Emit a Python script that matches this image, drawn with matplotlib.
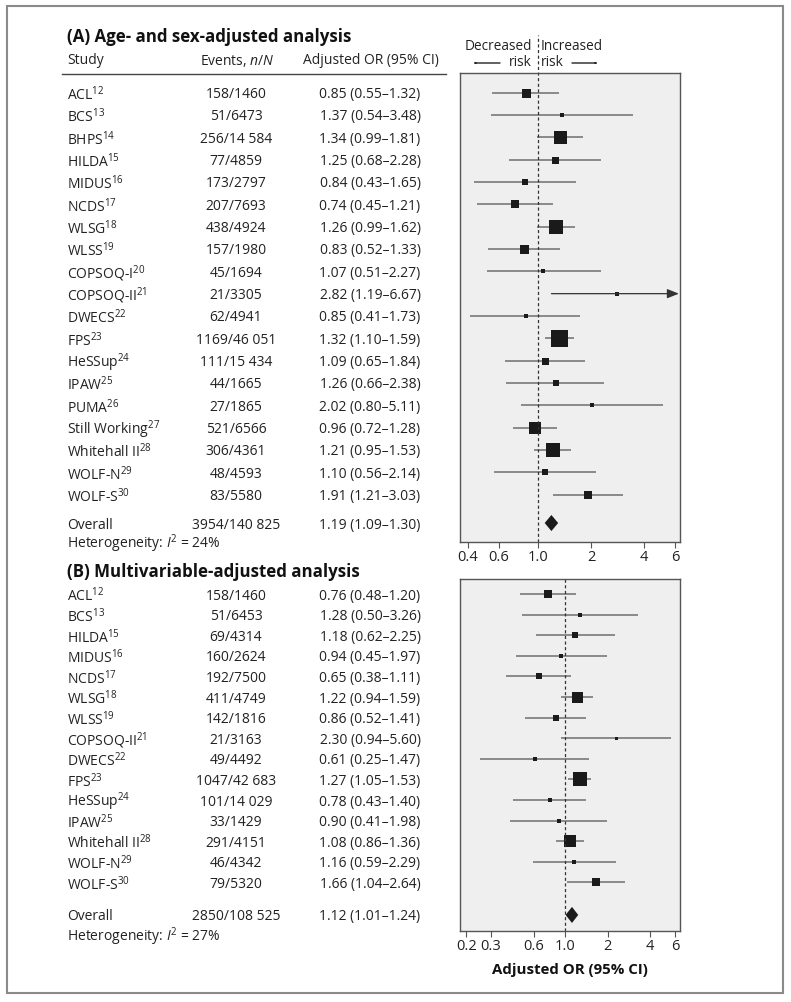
import numpy as np
import matplotlib
matplotlib.use('Agg')
import matplotlib.pyplot as plt
from matplotlib import transforms
from matplotlib.patches import Rectangle, Polygon, FancyArrowPatch
from matplotlib.lines import Line2D
from matplotlib.ticker import FixedLocator, FixedFormatter, NullLocator

plt.rcParams['font.family'] = ['Open Sans', 'DejaVu Sans']
plt.rcParams['mathtext.fontset'] = 'custom'
plt.rcParams['mathtext.rm'] = 'Open Sans'
plt.rcParams['mathtext.it'] = 'Open Sans:italic'
plt.rcParams['mathtext.bf'] = 'Open Sans:bold'

# (A) age- and sex-adjusted
studies_a = ['ACL', 'BCS', 'BHPS', 'HILDA', 'MIDUS', 'NCDS', 'WLSG', 'WLSS', 'COPSOQ-I',
             'COPSOQ-II', 'DWECS', 'FPS', 'HeSSup', 'IPAW', 'PUMA', 'Still Working',
             'Whitehall II', 'WOLF-N', 'WOLF-S']
refs_a = [12, 13, 14, 15, 16, 17, 18, 19, 20, 21, 22, 23, 24, 25, 26, 27, 28, 29, 30]
events_a = ['158/1460', '51/6473', '256/14 584', '77/4859', '173/2797', '207/7693',
            '438/4924', '157/1980', '45/1694', '21/3305', '62/4941', '1169/46 051',
            '111/15 434', '44/1665', '27/1865', '521/6566', '306/4361', '48/4593', '83/5580']
or_a = [0.85, 1.37, 1.34, 1.25, 0.84, 0.74, 1.26, 0.83, 1.07, 2.82, 0.85, 1.32, 1.09,
        1.26, 2.02, 0.96, 1.21, 1.10, 1.91]
lo_a = [0.55, 0.54, 0.99, 0.68, 0.43, 0.45, 0.99, 0.52, 0.51, 1.19, 0.41, 1.10, 0.65,
        0.66, 0.80, 0.72, 0.95, 0.56, 1.21]
hi_a = [1.32, 3.48, 1.81, 2.28, 1.65, 1.21, 1.62, 1.33, 2.27, 6.67, 1.73, 1.59, 1.84,
        2.38, 5.11, 1.28, 1.53, 2.14, 3.03]
weights_a = [9, 5, 13, 7, 6, 8, 14, 9, 5, 5, 5, 17, 7, 6, 5, 12, 14, 6, 8]
overall_a = ['3954/140 825', 1.19, 1.09, 1.30]
i2_a = 24

# (B) multivariable-adjusted
studies_b = ['ACL', 'BCS', 'HILDA', 'MIDUS', 'NCDS', 'WLSG', 'WLSS', 'COPSOQ-II', 'DWECS',
             'FPS', 'HeSSup', 'IPAW', 'Whitehall II', 'WOLF-N', 'WOLF-S']
refs_b = [12, 13, 15, 16, 17, 18, 19, 21, 22, 23, 24, 25, 28, 29, 30]
events_b = ['158/1460', '51/6453', '69/4314', '160/2624', '192/7500', '411/4749',
            '142/1816', '21/3163', '49/4492', '1047/42 683', '101/14 029', '33/1429',
            '291/4151', '46/4342', '79/5320']
or_b = [0.76, 1.28, 1.18, 0.94, 0.65, 1.22, 0.86, 2.30, 0.61, 1.27, 0.78, 0.90, 1.08, 1.16, 1.66]
lo_b = [0.48, 0.50, 0.62, 0.45, 0.38, 0.94, 0.52, 0.94, 0.25, 1.05, 0.43, 0.41, 0.86, 0.59, 1.04]
hi_b = [1.20, 3.26, 2.25, 1.97, 1.11, 1.59, 1.41, 5.60, 1.47, 1.53, 1.40, 1.98, 1.36, 2.29, 2.64]
weights_b = [8, 4, 6, 5, 6, 11, 6, 3, 4, 14, 5, 4, 12, 5, 8]
overall_b = ['2850/108 525', 1.12, 1.01, 1.24]
i2_b = 27

ticks_a = [0.4, 0.6, 1.0, 2, 4, 6]
ticks_b = [0.2, 0.3, 0.6, 1.0, 2, 4, 6]

W, H = 791, 1002
fig = plt.figure(figsize=(W / 100, H / 100), dpi=100)


def fx(x):
    return x / W


def fy(y):
    return 1 - y / H


def add_box(left, top, right, bottom):
    return fig.add_axes([fx(left), fy(bottom), (right - left) / W, (bottom - top) / H])


FS = 10
TXT = '#222222'
GREY = '#555555'


def draw_panel(ax, studies, refs, events, ors, los, his, weights, overall, i2,
               ticks, xlim, ylim, y_overall, y_het, diamond_h):
    ax.set_facecolor('#efefef')
    ax.set_xscale('log')
    ax.set_xlim(*xlim)
    ax.set_ylim(*ylim)
    for s in ax.spines.values():
        s.set_color(GREY)
        s.set_linewidth(1)
    ax.set_yticks([])
    ax.xaxis.set_major_locator(FixedLocator(ticks))
    ax.xaxis.set_major_formatter(FixedFormatter([('%.1f' % t) if t < 2 else '%d' % t for t in ticks]))
    ax.xaxis.set_minor_locator(NullLocator())
    ax.tick_params(axis='x', direction='out', length=4, color=GREY, labelsize=10.5, pad=2,
                   labelcolor=TXT)

    # text columns: x in figure pixels, y follows the rows of the forest axes
    tr = transforms.blended_transform_factory(fig.transFigure, ax.transData)
    tr = tr + transforms.ScaledTranslation(0, -2 / 100, fig.dpi_scale_trans)
    for i in range(len(studies)):
        y = i
        hi = his[i]
        if hi > xlim[1]:
            ax.annotate('', xy=(xlim[1] * 0.985, y), xytext=(los[i], y),
                        arrowprops=dict(arrowstyle='-|>,head_length=0.7,head_width=0.28',
                                        color='#333333', lw=0.9, shrinkA=0, shrinkB=0))
        else:
            ax.plot([los[i], hi], [y, y], color='#6f6f6f', lw=1.1, solid_capstyle='butt')
        ax.plot(ors[i], y, marker='s', color='#1a1a1a', markersize=weights[i] * 0.72,
                markeredgewidth=0)
        fig.text(fx(67), y, '%s$^{%d}$' % (studies[i], refs[i]), transform=tr,
                 fontsize=FS, va='center', ha='left', color=TXT)
        fig.text(fx(236), y, events[i], transform=tr, fontsize=FS, va='center',
                 ha='center', color=TXT)
        fig.text(fx(370), y, '%.2f (%.2f\u2013%.2f)' % (ors[i], los[i], hi), transform=tr,
                 fontsize=FS, va='center', ha='center', color=TXT)

    est, lo, hi = overall[1], overall[2], overall[3]
    ax.add_patch(Polygon([(lo, y_overall), (est, y_overall - diamond_h), (hi, y_overall),
                          (est, y_overall + diamond_h)], closed=True, color='#1a1a1a', lw=0))
    fig.text(fx(67), y_overall, 'Overall', transform=tr, fontsize=FS, va='center', color=TXT)
    fig.text(fx(236), y_overall, overall[0], transform=tr, fontsize=FS, va='center',
             ha='center', color=TXT)
    fig.text(fx(370), y_overall, '%.2f (%.2f\u2013%.2f)' % (est, lo, hi), transform=tr,
             fontsize=FS, va='center', ha='center', color=TXT)
    fig.text(fx(67), y_het, 'Heterogeneity: $\\it{I}^2$ = %d%%' % i2, transform=tr,
             fontsize=FS, va='center', color=TXT)


# panel A
ax_a = add_box(460, 73, 680, 542)
draw_panel(ax_a, studies_a, refs_a, events_a, or_a, lo_a, hi_a, weights_a, overall_a, i2_a,
           ticks_a, (0.36, 6.4), (20.12, -0.88), 19.27, 20.1, 0.36)
ax_a.axvline(1.0, ymin=0, ymax=1.081, color='#333333', lw=0.9, ls=(0, (2.5, 2)), clip_on=False)

# panel B
ax_b = add_box(460, 579, 680, 931)
draw_panel(ax_b, studies_b, refs_b, events_b, or_b, lo_b, hi_b, weights_b, overall_b, i2_b,
           ticks_b, (0.181, 6.5), (16.36, -0.73), 15.58, 16.55, 0.39)
ax_b.axvline(1.0, color='#333333', lw=0.9, ls=(0, (2.5, 2)))
ax_b.set_xlabel('Adjusted OR (95% CI)', fontsize=10.8, fontweight='bold', labelpad=6,
                color='#111111')

# titles and headers
fig.text(fx(67), fy(37), '(A) Age- and sex-adjusted analysis', fontsize=12.2,
         fontweight='bold', va='center', color='#111111')
fig.text(fx(67), fy(572), '(B) Multivariable-adjusted analysis', fontsize=12.2,
         fontweight='bold', va='center', color='#111111')
fig.text(fx(67), fy(61), 'Study', fontsize=FS, va='center', color=TXT)
fig.text(fx(237), fy(61), 'Events, $\\it{n/N}$', fontsize=FS, va='center', ha='center',
         color=TXT)
fig.text(fx(371), fy(61), 'Adjusted OR (95% CI)', fontsize=FS, va='center', ha='center',
         color=TXT)
fig.add_artist(Line2D([fx(62), fx(446)], [fy(74), fy(74)], color='#444444', lw=1))

# direction labels
fig.text(fx(532), fy(46), 'Decreased', fontsize=9.8, ha='right', va='center', color=TXT)
fig.text(fx(532), fy(62), 'risk', fontsize=9.8, ha='right', va='center', color=TXT)
fig.text(fx(541), fy(46), 'Increased', fontsize=9.8, ha='left', va='center', color=TXT)
fig.text(fx(541), fy(62), 'risk', fontsize=9.8, ha='left', va='center', color=TXT)
arrow_kw = dict(arrowstyle='-|>,head_length=0.8,head_width=0.32', color='#222222', lw=1,
                shrinkA=0, shrinkB=0)
fig.add_artist(FancyArrowPatch((fx(500), fy(63)), (fx(473), fy(63)),
                               transform=fig.transFigure, **arrow_kw))
fig.add_artist(FancyArrowPatch((fx(572), fy(63)), (fx(598), fy(63)),
                               transform=fig.transFigure, **arrow_kw))

# outer frame
fig.add_artist(Rectangle((fx(7), fy(993)), (783 - 7) / W, (993 - 6) / H, fill=False,
                         edgecolor='#8a8a8a', lw=1.5, transform=fig.transFigure))

fig.savefig('out.png', dpi=100)
